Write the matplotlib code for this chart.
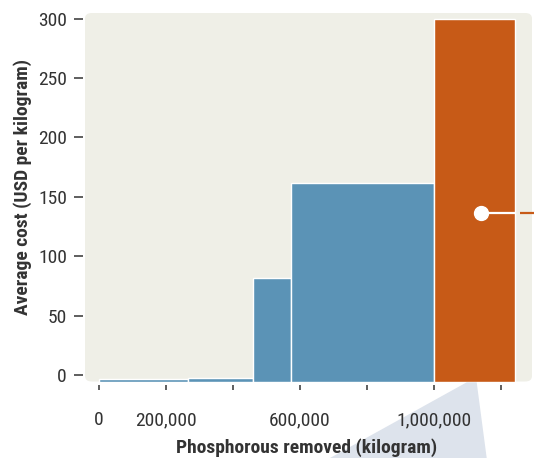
import matplotlib
matplotlib.use("Agg")
import matplotlib.pyplot as plt
from matplotlib import font_manager
from matplotlib.patches import FancyBboxPatch, Polygon
from matplotlib.ticker import FixedLocator, FixedFormatter

# bar edges along x (kilogram removed) and average cost of each bar
edges = [0, 265000, 461000, 574000, 1001000, 1242000]
costs = [-3.6, -2.3, 81.5, 161.5, 300]
colors = ["#5b93b6", "#5b93b6", "#5b93b6", "#5b93b6", "#c75a17"]

# highlighted point (white dot) on the orange bar
dot_x, dot_y = 1141000, 136.3

xticks = [0, 200000, 400000, 600000, 800000, 1000000, 1200000]
xtick_labels = ["0", "200,000", "", "600,000", "", "1,000,000", ""]
yticks = [0, 50, 100, 150, 200, 250, 300]

names = {f.name for f in font_manager.fontManager.ttflist}
family = "DejaVu Sans"
for cand in ["Liberation Sans Narrow", "DejaVu Sans Condensed", "Roboto Condensed"]:
    if cand in names:
        family = cand
        break
plt.rcParams["font.family"] = [family, "DejaVu Sans"]

text_col = "#333333"
bg = "#efefe7"

W, H = 534, 458
fig = plt.figure(figsize=(W / 100, H / 100), dpi=100)
left, right, top, bottom = 85, 532, 13, 381.5
ax = fig.add_axes([left / W, 1 - bottom / H, (right - left) / W, (bottom - top) / H])

ymin, ymax = -5.5, 304.7
xmin, xmax = -40900, 1293000
ax.set_xlim(xmin, xmax)
ax.set_ylim(ymin, ymax)

ax.patch.set_visible(False)
ax.add_patch(FancyBboxPatch((0, 0), 1, 1, boxstyle="round,pad=0,rounding_size=0.015",
                            transform=ax.transAxes, facecolor=bg, edgecolor="none",
                            zorder=0))

lefts = edges[:-1]
widths = [edges[i + 1] - edges[i] for i in range(len(costs))]
heights = [c - ymin for c in costs]
ax.bar(lefts, heights, width=widths, bottom=ymin, align="edge", color=colors,
       edgecolor="white", linewidth=1.0, zorder=2)

# marker and leader line
ax.plot([1165000, 1243000], [dot_y, dot_y], color="white", lw=1.6, zorder=3,
        solid_capstyle="butt")
ax.plot([1258000, 1320000], [dot_y, dot_y], color="#c75a17", lw=1.6, zorder=3,
        clip_on=False, solid_capstyle="butt")
ax.plot([dot_x], [dot_y], "o", color="white", markersize=10, zorder=4)

for s in ax.spines.values():
    s.set_visible(False)
ax.spines["bottom"].set_position(("outward", 2.6))
ax.spines["left"].set_position(("outward", 1.5))

ax.xaxis.set_major_locator(FixedLocator(xticks))
ax.xaxis.set_major_formatter(FixedFormatter(xtick_labels))
ax.set_yticks(yticks)
ax.tick_params(axis="x", length=3.8, width=1.1, color=text_col, pad=15,
               labelsize=14, labelcolor=text_col)
ax.tick_params(axis="y", length=6.5, width=1.1, color=text_col, pad=5,
               labelsize=14, labelcolor=text_col)

ax.set_xlabel("Phosphorous removed (kilogram)", fontsize=14, fontweight="bold",
              color=text_col)
ax.xaxis.set_label_coords(0.495, -0.193)
ax.xaxis.label.set_va("baseline")
ax.set_ylabel("Average cost (USD per kilogram)", fontsize=14, fontweight="bold",
              color=text_col)
ax.yaxis.set_label_coords(-0.119, 0.528)

# zoom wedge below the orange bar
pts = [(466.7, 382.3), (476.7, 382.3), (486.7, 458), (330, 458)]
wedge = Polygon([(x / W, 1 - y / H) for x, y in pts], closed=True,
                transform=fig.transFigure, facecolor="#dde3ec", edgecolor="none",
                zorder=-1)
fig.patches.append(wedge)

fig.savefig("out.png", dpi=100)
